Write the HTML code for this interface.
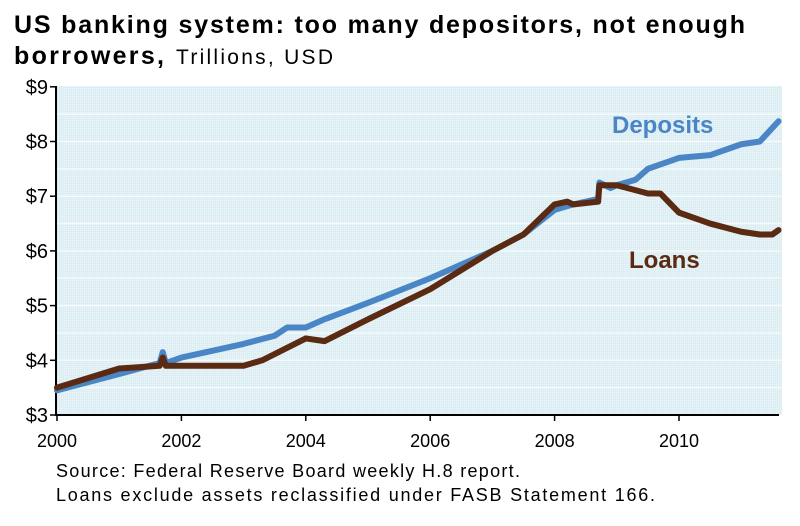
<!DOCTYPE html>
<html><head><meta charset="utf-8"><style>
body{margin:0;background:#fff;width:800px;height:521px;overflow:hidden;font-family:"Liberation Sans",Arial,sans-serif}
</style></head><body>
<svg width="800" height="521" xmlns="http://www.w3.org/2000/svg">
<defs><pattern id="dots" width="2" height="2" patternUnits="userSpaceOnUse"><rect width="2" height="2" fill="#dcedf4"/><rect width="1" height="1" fill="#eef6fa"/></pattern></defs>
<text x="14" y="33" font-size="25" font-weight="bold" fill="#000" textLength="731" lengthAdjust="spacing">US banking system: too many depositors, not enough</text>
<text x="14" y="64" font-size="25" font-weight="bold" fill="#000"><tspan textLength="150" lengthAdjust="spacing">borrowers,</tspan><tspan x="176" font-weight="normal" font-size="21" textLength="157" lengthAdjust="spacing">Trillions, USD</tspan></text>
<rect x="57" y="86" width="725" height="329" fill="url(#dots)"/>
<g id="grid"></g>
<g id="axes"></g>
<g id="series"></g>
<text x="612" y="133" font-size="24" font-weight="bold" fill="#4a86c5">Deposits</text>
<text x="629" y="268" font-size="24" font-weight="bold" fill="#5a2a12">Loans</text>
<text x="56" y="477" font-size="18" fill="#000" textLength="464" lengthAdjust="spacing">Source: Federal Reserve Board weekly H.8 report.</text>
<text x="56" y="501" font-size="18" fill="#000" textLength="599" lengthAdjust="spacing">Loans exclude assets reclassified under FASB Statement 166.</text>
</svg>
<script>
const yTicks=[3,4,5,6,7,8,9];
const xTicks=[2000,2002,2004,2006,2008,2010];
const depYears=[2000,2001,2001.65,2001.7,2001.75,2002,2003,2003.5,2003.7,2004,2004.3,2005,2006,2007,2007.5,2008,2008.3,2008.7,2008.72,2008.9,2009,2009.3,2009.5,2010,2010.5,2011,2011.3,2011.6];
const depVals=[3.45,3.75,3.95,4.15,3.95,4.05,4.3,4.45,4.6,4.6,4.75,5.05,5.5,6.0,6.3,6.75,6.85,6.95,7.25,7.15,7.2,7.3,7.5,7.7,7.75,7.95,8.0,8.37];
const loanYears=[2000,2001,2001.65,2001.7,2001.75,2002,2003,2003.3,2004,2004.3,2005,2006,2007,2007.5,2008,2008.2,2008.3,2008.7,2008.72,2009,2009.5,2009.7,2010,2010.5,2011,2011.3,2011.5,2011.6];
const loanVals=[3.5,3.85,3.9,4.05,3.9,3.9,3.9,4.0,4.4,4.35,4.75,5.3,6.0,6.3,6.85,6.9,6.85,6.9,7.2,7.2,7.05,7.05,6.7,6.5,6.35,6.3,6.3,6.38];
const X=y=>57+(y-2000)*62.2;
const Y=v=>415-(v-3)*54.7;
const NS="http://www.w3.org/2000/svg";
function mk(t,a,p){const e=document.createElementNS(NS,t);for(const k in a)e.setAttribute(k,a[k]);p.appendChild(e);return e;}
const grid=document.getElementById('grid'),axes=document.getElementById('axes'),ser=document.getElementById('series');
for(let v=3.5;v<9;v+=0.5){const g=mk('line',{x1:57,x2:782,y1:Y(v),y2:Y(v),stroke:'#f4f9fb','stroke-width':1.5},grid);

}
const ya=mk('line',{x1:56,x2:56,y1:86,y2:416,stroke:'#000','stroke-width':2},axes);


const xa=mk('line',{x1:55,x2:779,y1:415,y2:415,stroke:'#000','stroke-width':2},axes);


yTicks.forEach(v=>{mk('line',{x1:50,x2:56,y1:Y(v),y2:Y(v),stroke:'#000','stroke-width':1.5},axes);
const t=mk('text',{x:48,y:Y(v)+7,'font-size':20,'text-anchor':'end'},axes);t.textContent='$'+v;

});
xTicks.forEach(y=>{mk('line',{x1:X(y),x2:X(y),y1:415,y2:421,stroke:'#000','stroke-width':1.5},axes);
const t=mk('text',{x:X(y),y:447,'font-size':18,'text-anchor':'middle'},axes);t.textContent=y;

});
function line(xs,vs,c,n){const p=mk('polyline',{points:xs.map((x,i)=>X(x)+','+Y(vs[i])).join(' '),fill:'none',stroke:c,'stroke-width':6,'stroke-linejoin':'round','stroke-linecap':'round'},ser);

}
line(depYears,depVals,'#4a86c5','deposits-line');
line(loanYears,loanVals,'#5a2a12','loans-line');
</script>
</body></html>
